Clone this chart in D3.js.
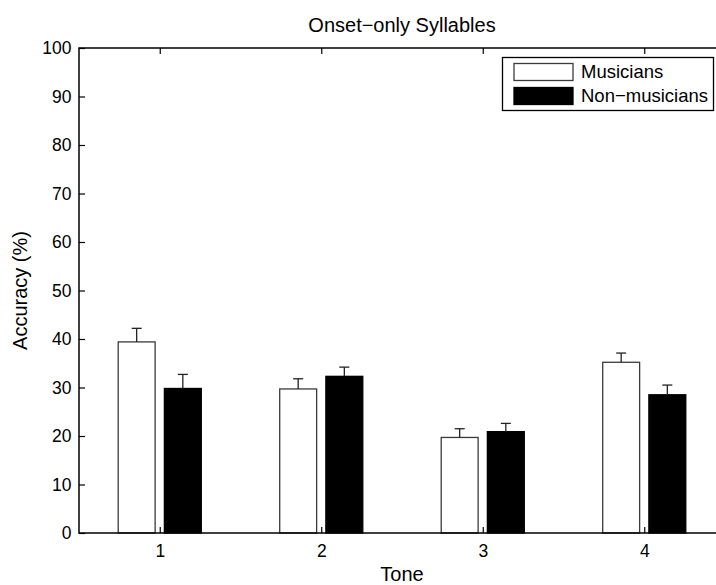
<!DOCTYPE html>
<html>
<head>
<meta charset="utf-8">
<script src="https://cdn.jsdelivr.net/npm/d3@7"></script>
<style>
  html, body { margin: 0; padding: 0; background: #fff; }
  svg { display: block; font-family: "Liberation Sans", Arial, Helvetica, sans-serif; }
</style>
</head>
<body>
<svg id="chart" width="716" height="585"></svg>
<script>
// Tone categories and accuracy (%) for each group, with upper error bars
const tones = [1, 2, 3, 4];
const musicians = [39.4, 29.7, 19.7, 35.2];
const nonMusicians = [29.8, 32.3, 20.9, 28.5];
const musiciansErr = [2.8, 2.1, 1.8, 1.9];
const nonMusiciansErr = [2.9, 1.9, 1.7, 2.0];
const yTicks = [0, 10, 20, 30, 40, 50, 60, 70, 80, 90, 100];
const seriesNames = ["Musicians", "Non\u2212musicians"];

const svg = d3.select("#chart");
const plotLeft = 79, plotRight = 725, plotTop = 48, plotBottom = 533;

const x = d3.scaleLinear().domain([0.5, 4.5]).range([plotLeft, plotRight]);
const y = d3.scaleLinear().domain([0, 100]).range([plotBottom, plotTop]);

// grouped-bar layout in category units
const barWidth = 0.2286;
const offsets = [-0.1429, 0.1429];

const series = [
  { name: seriesNames[0], values: musicians, err: musiciansErr, fill: "#fff", stroke: "#3a3a3a" },
  { name: seriesNames[1], values: nonMusicians, err: nonMusiciansErr, fill: "#000", stroke: "#000" }
];

// bars
series.forEach((s, si) => {
  const g = svg.append("g");
  g.selectAll("rect").data(tones).enter().append("rect")
    .attr("x", (t) => x(t + offsets[si] - barWidth / 2))
    .attr("width", x(barWidth) - x(0))
    .attr("y", (t, i) => y(s.values[i]))
    .attr("height", (t, i) => y(0) - y(s.values[i]))
    .attr("fill", s.fill)
    .attr("stroke", s.stroke)
    .attr("stroke-width", 1.3);
});

// upper error bars
series.forEach((s, si) => {
  const g = svg.append("g").attr("stroke", "#222").attr("stroke-width", 1.3).attr("fill", "none");
  tones.forEach((t, i) => {
    const cx = x(t + offsets[si]);
    const y0 = y(s.values[i]);
    const y1 = y(s.values[i] + s.err[i]);
    g.append("line").attr("x1", cx).attr("x2", cx).attr("y1", y0).attr("y2", y1);
    g.append("line").attr("x1", cx - 5).attr("x2", cx + 5).attr("y1", y1).attr("y2", y1);
  });
});

// axes with inward ticks (box style)
const tickFont = "17.5px";
const yAxis = d3.axisLeft(y).tickValues(yTicks).tickSizeInner(-6).tickSizeOuter(0).tickPadding(7.5);
const gy = svg.append("g").attr("transform", `translate(${plotLeft},0)`).call(yAxis);
gy.selectAll("text").attr("font-size", tickFont).attr("fill", "#000").attr("font-family", null);

const xAxis = d3.axisBottom(x).tickValues(tones).tickFormat(d3.format("d")).tickSizeInner(-6).tickSizeOuter(0).tickPadding(12);
const gx = svg.append("g").attr("transform", `translate(0,${plotBottom})`).call(xAxis);
gx.selectAll("text").attr("font-size", tickFont).attr("fill", "#000").attr("font-family", null);

const xTop = d3.axisTop(x).tickValues(tones).tickFormat("").tickSizeInner(-6).tickSizeOuter(0);
const gt = svg.append("g").attr("transform", `translate(0,${plotTop})`).call(xTop);

[gy, gx, gt].forEach(g => g.selectAll(".tick line").attr("stroke", "#000").attr("stroke-width", 1.2));
svg.selectAll(".domain").remove();

// axes box
svg.append("rect")
  .attr("x", plotLeft).attr("y", plotTop)
  .attr("width", plotRight - plotLeft).attr("height", plotBottom - plotTop)
  .attr("fill", "none").attr("stroke", "#000").attr("stroke-width", 1.5);

// title and axis labels
svg.append("text").attr("x", (plotLeft + plotRight) / 2).attr("y", 32)
  .attr("text-anchor", "middle").attr("font-size", "20px").text("Onset\u2212only Syllables");
svg.append("text").attr("x", (plotLeft + plotRight) / 2).attr("y", 581)
  .attr("text-anchor", "middle").attr("font-size", "20px").text("Tone");
svg.append("text")
  .attr("transform", `translate(27,${(plotTop + plotBottom) / 2}) rotate(-90)`)
  .attr("text-anchor", "middle").attr("font-size", "20px").text("Accuracy (%)");

// legend
const lg = svg.append("g");
lg.append("rect").attr("x", 502.5).attr("y", 57.5).attr("width", 211).attr("height", 53)
  .attr("fill", "#fff").attr("stroke", "#000").attr("stroke-width", 1.3);
series.forEach((s, i) => {
  const yy = 63.5 + i * 24;
  lg.append("rect").attr("x", 514).attr("y", yy).attr("width", 59).attr("height", 17)
    .attr("fill", s.fill).attr("stroke", s.stroke).attr("stroke-width", 1.3);
  lg.append("text").attr("x", 581).attr("y", yy + 8.5).attr("dy", "0.35em")
    .attr("font-size", "18.5px").text(s.name);
});
</script>
</body>
</html>
